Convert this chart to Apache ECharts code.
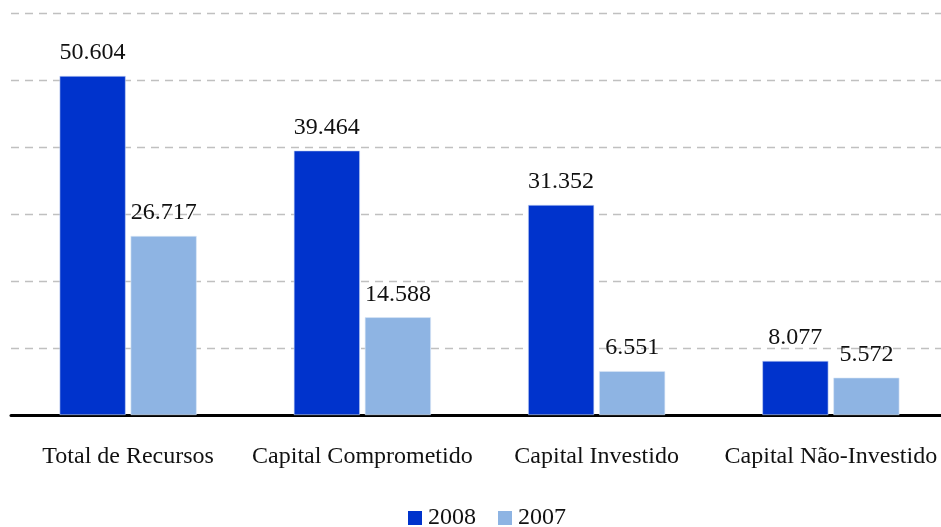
<!DOCTYPE html>
<html>
<head>
<meta charset="utf-8">
<script src="https://cdn.jsdelivr.net/npm/echarts@6/dist/echarts.min.js"></script>
<style>
  html, body { margin: 0; padding: 0; background: #fff; overflow: hidden; }
  /* o gráfico original corta a última categoria na borda direita */
  #chart { width: 948px; height: 527px; }
</style>
</head>
<body>
<div id="chart"></div>
<script>
// valores em milhares
const categories = ['Total de Recursos', 'Capital Comprometido', 'Capital Investido', 'Capital Não-Investido'];
const values2008 = [50.604, 39.464, 31.352, 8.077];
const values2007 = [26.717, 14.588, 6.551, 5.572];
const seriesNames = ['2008', '2007'];

const serif = '"Liberation Serif", "DejaVu Serif", serif';

const labelStyle = {
    show: true,
    position: 'top',
    distance: 11,
    color: '#111',
    fontFamily: serif,
    fontSize: 24,
    formatter: p => p.value.toFixed(3)
};

const chart = echarts.init(document.getElementById('chart'));
chart.setOption({
    animation: false,
    textStyle: { fontFamily: serif },
    grid: { left: 11, right: 0, top: 13, bottom: 112, containLabel: false },
    legend: {
        top: 506,
        left: 408,
        padding: 0,
        itemWidth: 14,
        itemHeight: 14,
        itemGap: 22,
        icon: 'rect',
        itemStyle: { borderWidth: 0 },
        textStyle: { fontFamily: serif, fontSize: 24, color: '#111', padding: [0, 0, 0, 1] },
        data: seriesNames
    },
    xAxis: {
        type: 'category',
        data: categories,
        axisLine: { lineStyle: { color: '#000', width: 3 } },
        axisTick: { show: false },
        axisLabel: { color: '#111', fontFamily: serif, fontSize: 24, margin: 30, interval: 0 }
    },
    yAxis: {
        type: 'value',
        min: 0,
        max: 60,
        interval: 10,
        axisLabel: { show: false },
        axisLine: { show: false },
        axisTick: { show: false },
        splitLine: { lineStyle: { color: '#c0c0c0', type: [8, 6], width: 1.4 } }
    },
    series: [{
        name: seriesNames[0],
        type: 'bar',
        data: values2008,
        barWidth: '28.2%',
        barGap: '7.5%',
        itemStyle: { color: '#0033CC', borderColor: '#c9d6f3', borderWidth: 0.6 },
        label: labelStyle
    }, {
        name: seriesNames[1],
        type: 'bar',
        data: values2007,
        barWidth: '28.2%',
        itemStyle: { color: '#8EB4E3', borderColor: '#dce8f7', borderWidth: 0.6 },
        label: labelStyle
    }]
});
</script>
</body>
</html>
